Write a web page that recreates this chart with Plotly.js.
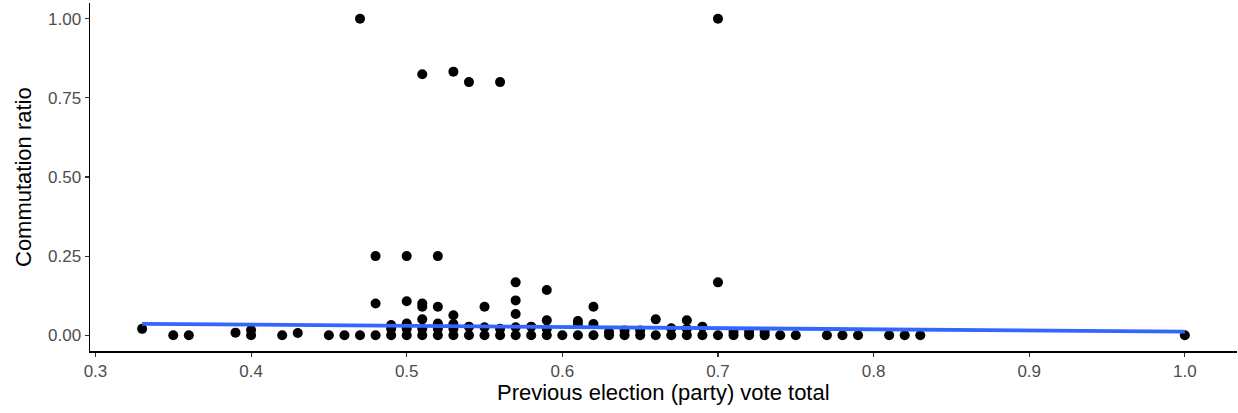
<!DOCTYPE html>
<html>
<head>
<meta charset="utf-8">
<script src="https://cdn.plot.ly/plotly-3.0.1.min.js"></script>
<style>html,body{margin:0;padding:0;background:#fff;}#chart{width:1238px;height:413px;}</style>
</head>
<body>
<div id="chart"></div>
<script>
// Previous election vote total (x) and commutation ratio (y)
const voteTotal = [
  0.33, 0.35, 0.36, 0.39, 0.40, 0.40, 0.42, 0.43, 0.45, 0.46,
  0.47, 0.47,
  0.48, 0.48, 0.48,
  0.49, 0.49, 0.49,
  0.50, 0.50, 0.50, 0.50, 0.50,
  0.51, 0.51, 0.51, 0.51, 0.51, 0.51,
  0.52, 0.52, 0.52, 0.52, 0.52,
  0.53, 0.53, 0.53, 0.53, 0.53,
  0.54, 0.54, 0.54,
  0.55, 0.55, 0.55,
  0.56, 0.56, 0.56,
  0.57, 0.57, 0.57, 0.57, 0.57,
  0.58, 0.58,
  0.59, 0.59, 0.59, 0.59,
  0.60,
  0.61, 0.61, 0.61,
  0.62, 0.62, 0.62,
  0.63, 0.63, 0.64, 0.64, 0.65, 0.65,
  0.66, 0.66, 0.67, 0.67,
  0.68, 0.68, 0.68,
  0.69, 0.69,
  0.70, 0.70, 0.70,
  0.71, 0.71, 0.72, 0.72, 0.73, 0.73,
  0.74, 0.75, 0.77, 0.78, 0.79, 0.81, 0.82, 0.83, 1.00
];
const commutationRatio = [
  0.02, 0, 0, 0.008, 0, 0.016, 0, 0.007, 0, 0,
  0, 1.0,
  0, 0.10, 0.25,
  0, 0.02, 0.032,
  0, 0.02, 0.037, 0.107, 0.25,
  0, 0.02, 0.05, 0.09, 0.10, 0.825,
  0, 0.02, 0.037, 0.09, 0.25,
  0, 0.02, 0.035, 0.063, 0.833,
  0, 0.027, 0.80,
  0, 0.025, 0.09,
  0, 0.02, 0.80,
  0, 0.025, 0.067, 0.11, 0.167,
  0, 0.027,
  0, 0.02, 0.047, 0.143,
  0,
  0, 0.035, 0.045,
  0, 0.035, 0.09,
  0, 0.01, 0, 0.015, 0, 0.015,
  0, 0.05, 0, 0.022,
  0, 0.02, 0.047,
  0, 0.027,
  0, 0.167, 1.0,
  0, 0.01, 0, 0.01, 0, 0.01,
  0, 0, 0, 0, 0, 0, 0, 0, 0
];
// Linear smoother endpoints
const fitX = [0.33, 1.0];
const fitY = [0.036, 0.011];

const xTickVals = [0.3, 0.4, 0.5, 0.6, 0.7, 0.8, 0.9, 1.0];
const xTickText = ["0.3", "0.4", "0.5", "0.6", "0.7", "0.8", "0.9", "1.0"];
const yTickVals = [0, 0.25, 0.5, 0.75, 1.0];
const yTickText = ["0.00", "0.25", "0.50", "0.75", "1.00"];
const xTitle = "Previous election (party) vote total";
const yTitle = "Commutation ratio";

const FONT = "Liberation Sans, Arial, Helvetica, sans-serif";

const traces = [
  {
    type: "scatter", mode: "markers",
    x: voteTotal, y: commutationRatio,
    marker: {color: "#000000", size: 10, line: {width: 0}},
    hoverinfo: "x+y", showlegend: false
  },
  {
    type: "scatter", mode: "lines",
    x: fitX, y: fitY,
    line: {color: "#3366FF", width: 3.8},
    showlegend: false
  }
];

const layout = {
  width: 1238, height: 413,
  paper_bgcolor: "#ffffff", plot_bgcolor: "#ffffff",
  margin: {l: 89.5, r: 1, t: 3, b: 62, pad: 0},
  font: {family: FONT, color: "#000000"},
  showlegend: false,
  xaxis: {
    range: [0.2965, 1.0335],
    tickvals: xTickVals, ticktext: xTickText,
    ticks: "outside", ticklen: 4, tickwidth: 1.1, tickcolor: "#333333",
    showline: true, linecolor: "#000000", linewidth: 1.5,
    showgrid: false, zeroline: false,
    tickfont: {family: FONT, size: 17, color: "#4D4D4D"}
  },
  yaxis: {
    range: [-0.05, 1.05],
    tickvals: yTickVals, ticktext: yTickText,
    ticks: "outside", ticklen: 4, tickwidth: 1.1, tickcolor: "#333333",
    showline: true, linecolor: "#000000", linewidth: 1.5,
    showgrid: false, zeroline: false,
    tickfont: {family: FONT, size: 17, color: "#4D4D4D"}
  },
  annotations: [
    {
      text: xTitle, showarrow: false, borderpad: 0,
      xref: "paper", x: 0.5, xanchor: "center",
      yref: "paper", y: 0, yanchor: "middle", yshift: -41,
      font: {family: FONT, size: 22, color: "#000000"}
    },
    {
      text: yTitle, showarrow: false, textangle: -90, borderpad: 0,
      xref: "paper", x: 0, xanchor: "center", xshift: -67,
      yref: "paper", y: 0.5, yanchor: "middle",
      font: {family: FONT, size: 22, color: "#000000"}
    }
  ]
};

Plotly.newPlot("chart", traces, layout, {displayModeBar: false, staticPlot: true});
</script>
</body>
</html>
